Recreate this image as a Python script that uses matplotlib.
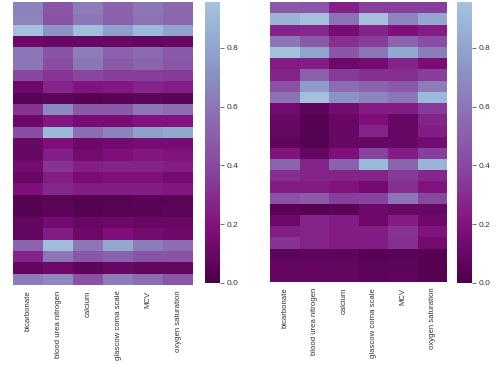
import numpy as np
import matplotlib
matplotlib.use("Agg")
import matplotlib.pyplot as plt
from matplotlib.colors import ListedColormap

plt.rcParams["font.family"] = ["Liberation Sans", "DejaVu Sans"]

features = ["bicarbonate", "blood urea nitrogen", "calcium",
            "glascow coma scale", "MCV", "oxygen saturation"]

# valores (linhas = amostras, colunas = features)
left_vals = [
    [0.65, 0.46, 0.62, 0.52, 0.60, 0.54],
    [0.66, 0.44, 0.60, 0.50, 0.58, 0.53],
    [0.95, 0.72, 0.93, 0.78, 0.90, 0.80],
    [0.12, 0.10, 0.10, 0.10, 0.08, 0.10],
    [0.60, 0.45, 0.62, 0.50, 0.55, 0.48],
    [0.60, 0.42, 0.60, 0.48, 0.52, 0.46],
    [0.40, 0.33, 0.40, 0.36, 0.36, 0.34],
    [0.12, 0.26, 0.20, 0.22, 0.26, 0.24],
    [0.05, 0.06, 0.04, 0.05, 0.06, 0.05],
    [0.32, 0.68, 0.48, 0.48, 0.60, 0.56],
    [0.12, 0.22, 0.16, 0.16, 0.20, 0.20],
    [0.42, 0.90, 0.56, 0.65, 0.78, 0.82],
    [0.10, 0.18, 0.12, 0.14, 0.15, 0.15],
    [0.10, 0.25, 0.14, 0.18, 0.22, 0.20],
    [0.14, 0.32, 0.24, 0.26, 0.26, 0.24],
    [0.10, 0.24, 0.16, 0.18, 0.18, 0.14],
    [0.18, 0.28, 0.24, 0.24, 0.24, 0.22],
    [0.04, 0.05, 0.04, 0.04, 0.05, 0.05],
    [0.04, 0.06, 0.04, 0.05, 0.05, 0.06],
    [0.08, 0.14, 0.10, 0.12, 0.10, 0.10],
    [0.08, 0.24, 0.12, 0.18, 0.14, 0.12],
    [0.52, 0.92, 0.60, 0.82, 0.62, 0.56],
    [0.26, 0.60, 0.46, 0.50, 0.45, 0.44],
    [0.08, 0.12, 0.06, 0.10, 0.08, 0.08],
    [0.62, 0.68, 0.44, 0.62, 0.56, 0.46],
]

right_vals = [
    [0.48, 0.46, 0.25, 0.36, 0.36, 0.36],
    [0.88, 0.95, 0.58, 0.95, 0.66, 0.82],
    [0.26, 0.28, 0.15, 0.26, 0.18, 0.24],
    [0.60, 0.48, 0.30, 0.36, 0.52, 0.42],
    [0.95, 0.80, 0.46, 0.60, 0.82, 0.62],
    [0.24, 0.24, 0.12, 0.14, 0.26, 0.16],
    [0.26, 0.50, 0.34, 0.30, 0.30, 0.36],
    [0.44, 0.76, 0.56, 0.52, 0.48, 0.62],
    [0.58, 0.95, 0.72, 0.66, 0.60, 0.90],
    [0.14, 0.06, 0.14, 0.24, 0.24, 0.34],
    [0.10, 0.04, 0.10, 0.18, 0.10, 0.26],
    [0.10, 0.04, 0.10, 0.26, 0.10, 0.24],
    [0.07, 0.03, 0.10, 0.10, 0.10, 0.14],
    [0.20, 0.08, 0.18, 0.38, 0.24, 0.36],
    [0.52, 0.26, 0.50, 0.90, 0.52, 0.88],
    [0.30, 0.26, 0.26, 0.26, 0.34, 0.28],
    [0.24, 0.24, 0.20, 0.14, 0.30, 0.20],
    [0.44, 0.48, 0.36, 0.38, 0.60, 0.40],
    [0.05, 0.03, 0.05, 0.12, 0.10, 0.10],
    [0.12, 0.26, 0.24, 0.12, 0.24, 0.12],
    [0.24, 0.26, 0.24, 0.24, 0.32, 0.20],
    [0.32, 0.26, 0.24, 0.24, 0.30, 0.14],
    [0.06, 0.07, 0.07, 0.04, 0.05, 0.04],
    [0.09, 0.09, 0.08, 0.06, 0.06, 0.04],
    [0.09, 0.09, 0.08, 0.06, 0.07, 0.04],
]

VMIN, VMAX = 0.0, 0.955
cbar_ticks = [0.0, 0.2, 0.4, 0.6, 0.8]

# BuPu_r truncado (parte escura -> azul claro)
base = plt.get_cmap("BuPu_r")
cmap = ListedColormap(base(np.linspace(0.0, 0.65, 256)))

TXT = "#333333"


def draw_heatmap(fig, rect, cbar_rect, vals):
    ax = fig.add_axes(rect)
    data = np.asarray(vals)
    mesh = ax.pcolormesh(data, cmap=cmap, vmin=VMIN, vmax=VMAX)
    ax.set_xlim(0, data.shape[1])
    ax.set_ylim(data.shape[0], 0)
    ax.set_xticks(np.arange(data.shape[1]) + 0.5)
    ax.set_xticklabels(features, rotation=90, fontsize=5.6, color=TXT)
    ax.set_yticks([])
    ax.tick_params(axis="x", length=0, pad=4)
    for s in ax.spines.values():
        s.set_visible(False)

    cax = fig.add_axes(cbar_rect)
    cb = fig.colorbar(mesh, cax=cax, ticks=cbar_ticks)
    cb.outline.set_visible(False)
    cb.ax.tick_params(labelsize=6.0, labelcolor=TXT, color="#555555",
                      length=3, width=0.6, pad=2)
    cb.ax.set_yticklabels([f"{t:.1f}" for t in cbar_ticks])
    return ax


fig = plt.figure(figsize=(5.0, 3.65), dpi=100)
fig.patch.set_facecolor("white")

draw_heatmap(fig, [0.026, 0.219, 0.360, 0.775], [0.410, 0.225, 0.030, 0.769], left_vals)
draw_heatmap(fig, [0.540, 0.227, 0.354, 0.767], [0.914, 0.225, 0.030, 0.769], right_vals)

fig.savefig("out.png", dpi=100)
